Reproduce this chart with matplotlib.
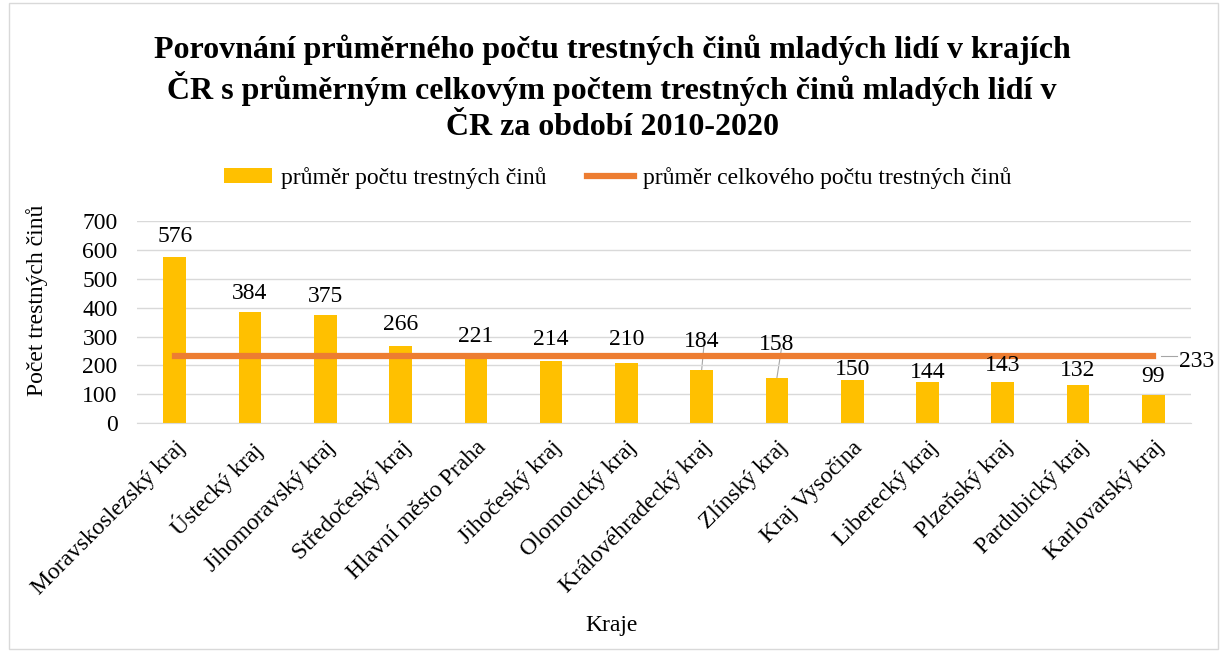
import matplotlib
matplotlib.use("Agg")
import matplotlib.pyplot as plt
from matplotlib.patches import Rectangle

kraje = [
    "Moravskoslezský kraj", "Ústecký kraj", "Jihomoravský kraj", "Středočeský kraj",
    "Hlavní město Praha", "Jihočeský kraj", "Olomoucký kraj", "Královéhradecký kraj",
    "Zlínský kraj", "Kraj Vysočina", "Liberecký kraj", "Plzeňský kraj",
    "Pardubický kraj", "Karlovarský kraj",
]
prumer = [576, 384, 375, 266, 221, 214, 210, 184, 158, 150, 144, 143, 132, 99]
prumer_celkem = 233

# label placement (data units), mimicking the hand-moved Excel labels
label_y = [648, 450, 440, 343, 301, 291, 288, 284, 274, 187, 177, 200, 184, 163]
leader = [False] * 7 + [True, True] + [False] * 5

title_lines = [
    "Porovnání průměrného počtu trestných činů mladých lidí v krajích",
    "ČR s průměrným celkovým počtem trestných činů mladých lidí v",
    "ČR za období 2010-2020",
]

plt.rcParams["font.family"] = ["Liberation Serif", "DejaVu Serif"]
FS = 17

fig = plt.figure(figsize=(12.24, 6.52), dpi=100)
fig.patches.append(Rectangle((0.007, 0.005), 0.988, 0.99, transform=fig.transFigure,
                             fill=False, edgecolor="#d9d9d9", linewidth=1))
ax = fig.add_axes([0.112, 0.351, 0.861, 0.310])

x = list(range(len(kraje)))
bars = ax.bar(x, prumer, width=0.3, color="#ffc000", zorder=2,
              label="průměr počtu trestných činů")
line, = ax.plot([x[0], x[-1]], [prumer_celkem] * 2, color="#ed7d31", linewidth=4.5,
                zorder=3, label="průměr celkového počtu trestných činů")

for xi, v, ly, ld in zip(x, prumer, label_y, leader):
    ax.text(xi, ly, str(v), ha="center", va="center", fontsize=FS, zorder=4)
    if ld:
        ax.plot([xi, xi + 0.03 * (xi - 6)], [v, ly - 16], color="#a6a6a6",
                linewidth=0.8, zorder=1)

ax.plot([x[-1] + 0.1, x[-1] + 0.32], [prumer_celkem] * 2, color="#a6a6a6", linewidth=0.8)
ax.text(x[-1] + 0.34, prumer_celkem - 20, str(prumer_celkem), ha="left", va="center",
        fontsize=FS)

ax.set_xlim(-0.5, len(kraje) - 0.5)
ax.set_ylim(0, 700)
ax.set_yticks(range(0, 701, 100))
ax.tick_params(axis="y", length=0, labelsize=FS, pad=14)
ax.set_xticks(x)
ax.set_xticklabels(kraje, rotation=45, ha="right", rotation_mode="anchor", fontsize=FS)
ax.tick_params(axis="x", length=0, pad=10)
ax.grid(axis="y", color="#d9d9d9", linewidth=1, zorder=0)
for s in ["top", "right", "left"]:
    ax.spines[s].set_visible(False)
ax.spines["bottom"].set_color("#d9d9d9")

ax.set_ylabel("Počet trestných činů", fontsize=FS)
ax.yaxis.set_label_coords(-0.085, 0.61)
fig.text(0.5, 0.04, "Kraje", ha="center", va="center", fontsize=FS)

for i, t in enumerate(title_lines):
    fig.text(0.5, 0.924 - i * 0.0595, t, ha="center", va="center",
             fontsize=23, fontweight="bold")

ax.legend([bars, line], [bars.get_label(), line.get_label()],
          loc="center", bbox_to_anchor=(0.505, 0.727), bbox_transform=fig.transFigure,
          ncol=2, frameon=False, fontsize=FS, handlelength=2.0, handleheight=0.6,
          columnspacing=1.7, handletextpad=0.4)

fig.savefig("out.png", dpi=100)
